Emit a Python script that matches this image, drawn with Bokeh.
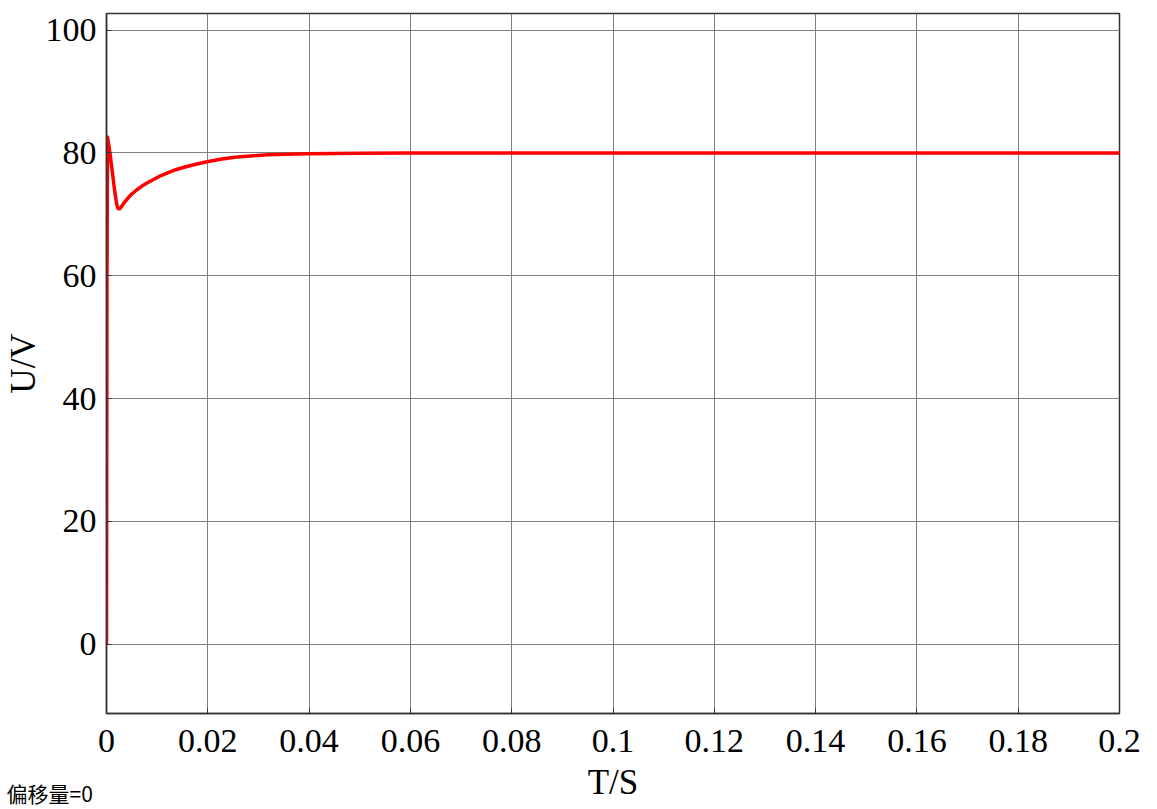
from bokeh.plotting import figure
from bokeh.models import Range1d, FixedTicker, Title
from bokeh.embed import file_html
from bokeh.resources import INLINE

# time (s) and voltage (V)
t = [0.0, 0.0001, 0.0002, 0.0005, 0.0008, 0.0012, 0.0016, 0.0019, 0.0021, 0.0023,
     0.0026, 0.0030, 0.0035, 0.0042, 0.0050, 0.0060, 0.0070, 0.0080, 0.0089,
     0.0105, 0.0122, 0.0138, 0.0155, 0.0178, 0.0201, 0.0225, 0.0253, 0.0285,
     0.0319, 0.0355, 0.0398, 0.045, 0.050, 0.060, 0.080, 0.100, 0.120, 0.140,
     0.160, 0.180, 0.200]
v = [0.0, 60.0, 82.6, 81.0, 79.2, 76.6, 73.9, 72.2, 71.3, 70.95,
     70.9, 71.3, 71.9, 72.6, 73.3, 74.0, 74.6, 75.1, 75.5,
     76.2, 76.8, 77.3, 77.7, 78.2, 78.6, 78.95, 79.3, 79.5,
     79.7, 79.78, 79.85, 79.92, 79.96, 80.0, 80.0, 80.0, 80.0, 80.0,
     80.0, 80.0, 80.0]

x_ticks = [0, 0.02, 0.04, 0.06, 0.08, 0.1, 0.12, 0.14, 0.16, 0.18, 0.2]
x_tick_labels = ["0", "0.02", "0.04", "0.06", "0.08", "0.1", "0.12", "0.14", "0.16", "0.18", "0.2"]
y_ticks = [0, 20, 40, 60, 80, 100]
y_tick_labels = ["0", "20", "40", "60", "80", "100"]

SERIF = "Liberation Serif"
W, H = 1149, 808

p = figure(width=W, height=H, output_backend="svg", toolbar_location=None,
           x_range=Range1d(0, 0.2), y_range=Range1d(-11.3, 102.7),
           min_border_left=105, min_border_right=W - 1119, min_border_top=13,
           min_border_bottom=H - 713)

p.line(t, v, line_color="#ff0000", line_width=3.5, line_join="round")

p.outline_line_color = "#333333"
p.outline_line_width = 1.5
p.background_fill_color = "white"
p.border_fill_color = "white"

for ax in (p.xaxis[0], p.yaxis[0]):
    ax.axis_line_color = "#333333"
    ax.axis_line_width = 1.5
    ax.major_tick_in = 5
    ax.major_tick_out = 0
    ax.minor_tick_in = 0
    ax.minor_tick_out = 0
    ax.major_tick_line_color = "#333333"
    ax.major_label_text_font = SERIF
    ax.major_label_text_font_size = "34px"
    ax.major_label_text_color = "black"
    ax.axis_label_text_font = SERIF
    ax.axis_label_text_font_size = "35px"
    ax.axis_label_text_font_style = "normal"
    ax.axis_label_text_color = "black"

p.xaxis[0].ticker = FixedTicker(ticks=x_ticks)
p.xaxis[0].major_label_overrides = {k: s for k, s in zip(x_ticks, x_tick_labels)}
p.yaxis[0].ticker = FixedTicker(ticks=y_ticks)
p.yaxis[0].major_label_overrides = {k: s for k, s in zip(y_ticks, y_tick_labels)}
p.xaxis[0].axis_label = "T/S"
p.yaxis[0].axis_label = "U/V"
p.xaxis[0].major_label_standoff = 16
p.xaxis[0].axis_label_standoff = 8
p.yaxis[0].major_label_standoff = 10
p.yaxis[0].axis_label_standoff = 0

p.xgrid.grid_line_color = "#7f7f7f"
p.ygrid.grid_line_color = "#7f7f7f"
p.xgrid.grid_line_width = 1
p.ygrid.grid_line_width = 1

note = Title(text="偏移量=0", align="left", offset=-100, standoff=-54,
             vertical_align="top", text_font="Noto Sans CJK SC",
             text_font_size="21px", text_font_style="normal", text_color="black")
p.add_layout(note, "below")

open("out.html", "w").write(file_html(p, INLINE))
